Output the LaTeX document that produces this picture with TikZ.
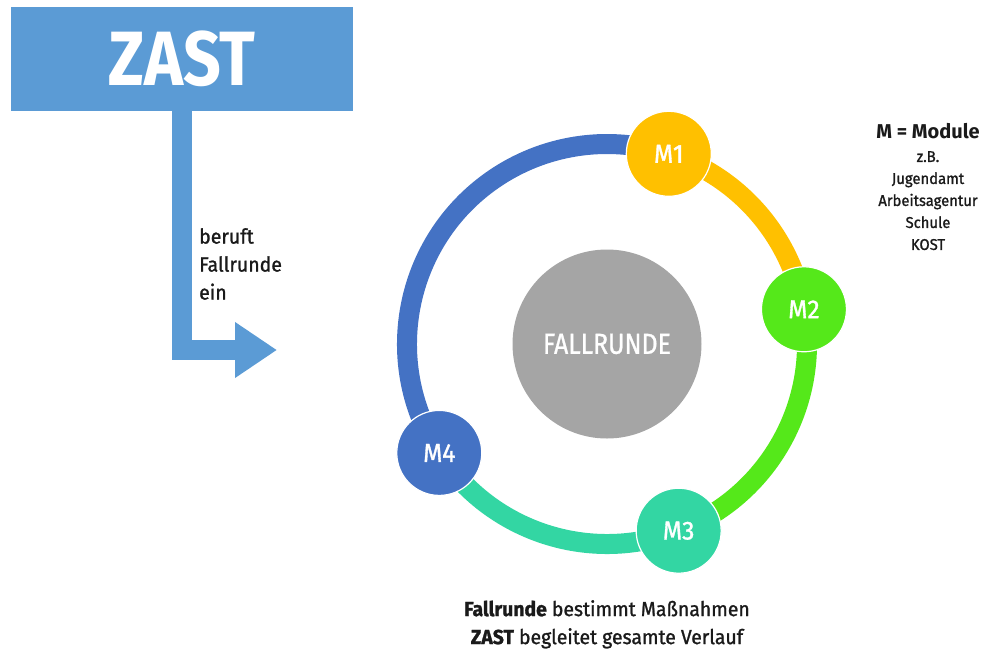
\documentclass[tikz,border=0pt]{standalone}
\usepackage{fontspec}
\setmainfont{Fira Sans}[FakeStretch=0.95, FakeBold=1.2]
\newfontfamily\condfont{Fira Sans}[FakeStretch=0.86, FakeBold=0.8]
\newfontfamily\zastfont{Fira Sans}[FakeStretch=0.86]
\newfontfamily\widefont{Fira Sans}
\usetikzlibrary{arrows.meta,backgrounds}
\definecolor{zastblue}{HTML}{5B9BD5}
\definecolor{mone}{HTML}{FFC000}
\definecolor{mtwo}{HTML}{55E81A}
\definecolor{mthree}{HTML}{33D6A3}
\definecolor{mfour}{HTML}{4472C4}
\definecolor{fgray}{HTML}{A5A5A5}
\definecolor{txt}{HTML}{1A1A1A}
\begin{document}
\begin{tikzpicture}[x=1pt,y=-1pt,
  modnode/.style={circle, minimum size=85pt, inner sep=0pt, draw=white, line width=1.2pt, text=white, font=\fontsize{26}{28}\selectfont},
  ringseg/.style={line width=20pt},
  lbl/.style={inner sep=0pt, text=txt}]
\useasboundingbox (0,0) rectangle (989,649);
\coordinate (ctr) at (607,344);
\node[circle, fill=fgray, minimum size=189pt, inner sep=0pt, text=white, font=\condfont\fontsize{29}{34}\selectfont] (fall) at (ctr) {FALLRUNDE};
\node[modnode, fill=mone] (m1) at ([shift={(-72:200)}]ctr) {M1};
\node[modnode, fill=mtwo] (m2) at ([shift={(-10:200)}]ctr) {M2};
\node[modnode, fill=mthree] (m3) at ([shift={(69:200)}]ctr) {M3};
\node[modnode, fill=mfour] (m4) at ([shift={(147:200)}]ctr) {M4};
\begin{scope}[on background layer]
\draw[ringseg, mone] (m1.center) arc[start angle=-72, end angle=-10, radius=200];
\draw[ringseg, mtwo] (m2.center) arc[start angle=-10, end angle=69, radius=200];
\draw[ringseg, mthree] (m3.center) arc[start angle=69, end angle=147, radius=200];
\draw[ringseg, mfour] (m4.center) arc[start angle=147, end angle=288, radius=200];
\end{scope}
\node[fill=zastblue, minimum width=342pt, minimum height=104pt, inner sep=0pt, text=white, font=\zastfont\fontsize{77}{80}\selectfont\bfseries] (zast) at (182,59) {ZAST};
\coordinate (tip) at (277,350);
\draw[zastblue, line width=20pt, -{Triangle[length=42pt, width=53pt]}] (zast.south) |- (tip);
\node[lbl, anchor=north west, align=left, font=\fontsize{20.5}{28}\selectfont] (beruft) at (199,228) {beruft\\Fallrunde\\ein};
\node[lbl, anchor=north, font=\widefont\fontsize{20}{22}\selectfont\bfseries] (mtitle) at (928,123) {M = Module};
\node[lbl, anchor=north, align=center, font=\fontsize{15.6}{22}\selectfont] (mlist) at (928,151) {z.B.\\Jugendamt\\Arbeitsagentur\\Schule\\KOST};
\node[lbl, anchor=north, align=center, font=\fontsize{20.4}{28}\selectfont] (summary) at (607,600) {\textbf{Fallrunde} bestimmt Maßnahmen\\\textbf{ZAST} begleitet gesamte Verlauf};
\end{tikzpicture}
\end{document}
